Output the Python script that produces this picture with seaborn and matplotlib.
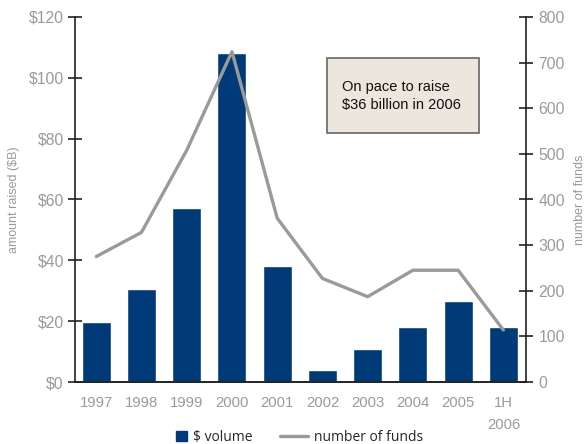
import numpy as np
import pandas as pd
import matplotlib
matplotlib.use("Agg")
import matplotlib.pyplot as plt
from matplotlib.patches import Patch, Rectangle
from matplotlib.lines import Line2D
from matplotlib.legend_handler import HandlerPatch
import seaborn as sns

years = ["1997", "1998", "1999", "2000", "2001", "2002", "2003", "2004", "2005", "1H\n2006"]
volume = [19.7, 30.6, 57.2, 108.3, 38.2, 3.9, 10.9, 18.1, 26.6, 18.1]
funds = [275, 328, 508, 724, 359, 227, 187, 245, 245, 114]
left_ticks = [0, 20, 40, 60, 80, 100, 120]
right_ticks = [0, 100, 200, 300, 400, 500, 600, 700, 800]

NAVY = "#003a78"
LINE_GRAY = "#9a9a9a"
TICK_GRAY = "#9a9a9a"
SPINE = "#222222"

sns.set_theme(style="white")
plt.rcParams["font.family"] = ["Liberation Sans", "DejaVu Sans"]

df = pd.DataFrame({"year": years, "volume": volume, "funds": funds})

fig = plt.figure(figsize=(5.87, 4.44), dpi=100)
ax = fig.add_axes([75 / 587, 1 - 382 / 444, (526 - 75) / 587, (382 - 17) / 444])

sns.barplot(data=df, x="year", y="volume", color=NAVY, saturation=1, width=0.64, ax=ax)
ax.set_ylim(0, 120)
ax.set_yticks(left_ticks)
ax.set_yticklabels([f"${v}" for v in left_ticks])
ax.set_xlabel("")
ax.set_ylabel("amount raised ($B)", color=TICK_GRAY, fontsize=9, labelpad=6)

ax2 = ax.twinx()
sns.lineplot(x=np.arange(len(years)), y=funds, color=LINE_GRAY, lw=2.4, ax=ax2)
ax2.set_ylim(0, 800)
ax2.set_yticks(right_ticks)
ax2.set_ylabel("")
ax.set_xlim(-0.47, 9.5)

for a in (ax, ax2):
    a.spines["top"].set_visible(False)
    for side in ("left", "right", "bottom"):
        a.spines[side].set_color(SPINE)
        a.spines[side].set_linewidth(1.2)
ax.spines["right"].set_visible(False)
ax2.spines["left"].set_visible(False)

ax.tick_params(axis="y", direction="inout", length=10, width=1.2, color=SPINE,
               labelcolor=TICK_GRAY, labelsize=11.3, pad=3, left=True)
ax.tick_params(axis="x", length=0, labelcolor=TICK_GRAY, labelsize=10.7, pad=10)
for lbl in ax.get_xticklabels():
    lbl.set_linespacing(1.7)
ax2.tick_params(axis="y", direction="inout", length=10, width=1.2, color=SPINE,
                labelcolor=TICK_GRAY, labelsize=11.3, pad=4, right=True)

fig.text(580 / 587, 1 - 200 / 444, "number of funds", rotation=90, color=TICK_GRAY,
         fontsize=9, ha="center", va="center")

# callout box
x0, x1 = (327 - 75) / 451, (479 - 75) / 451
y0, y1 = (382 - 133) / 365, (382 - 58) / 365
ax.add_patch(Rectangle((x0, y0), x1 - x0, y1 - y0, transform=ax.transAxes,
                       facecolor="#ece6dd", edgecolor="#666666", lw=1.2, zorder=5,
                       clip_on=False))
ax.text((341.5 - 75) / 451, (382 - 96) / 365, "On pace to raise\n$36 billion in 2006",
        transform=ax.transAxes, fontsize=10.5, color="#111111", ha="left", va="center",
        linespacing=1.3, zorder=6)


def square_handle(legend, orig_handle, xdescent, ydescent, width, height, fontsize):
    s = height * 1.05
    return Rectangle((width - xdescent - s, -ydescent - 0.05 * height), s, s)


handles = [Patch(facecolor=NAVY, edgecolor=NAVY, label="$ volume"),
           Line2D([0], [0], color=LINE_GRAY, lw=2.4, label="number of funds")]
fig.legend(handles=handles, loc="center", bbox_to_anchor=(291 / 587, 1 - 437 / 444), ncol=2,
           frameon=False, handlelength=2.0, handleheight=0.75, columnspacing=2.0,
           handletextpad=0.45, prop={"family": "Open Sans", "size": 10},
           handler_map={Patch: HandlerPatch(patch_func=square_handle)})

fig.savefig("out.png", dpi=100)
